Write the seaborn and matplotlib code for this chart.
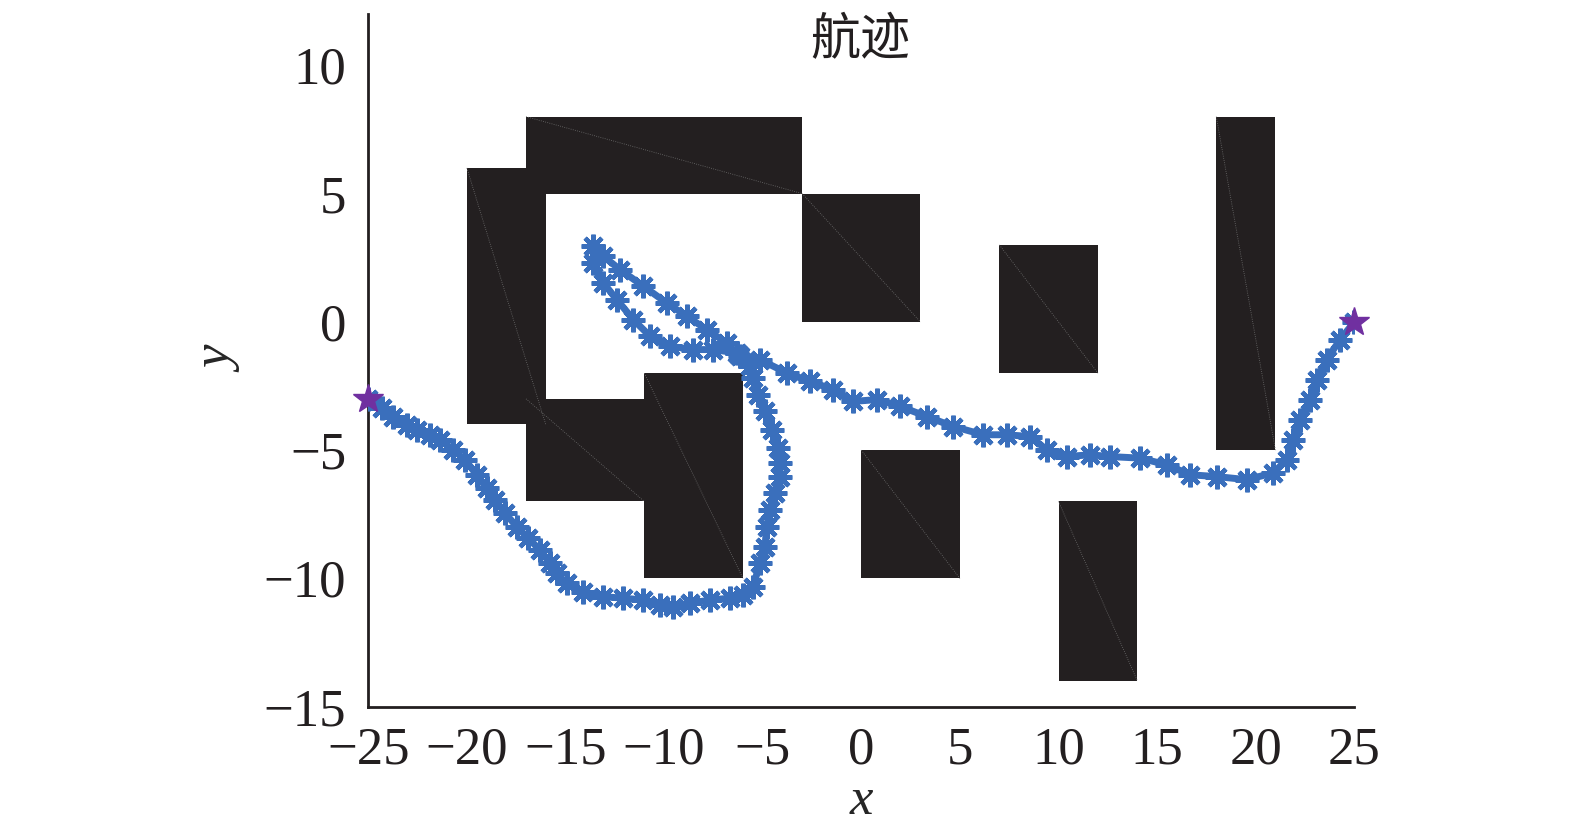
import matplotlib as mpl
mpl.use('agg')
import matplotlib.pyplot as plt
import pandas as pd
import seaborn as sns

# obstacles: x0, x1, y0, y1
obs_x0 = [-20, -17, -3, 7, 18, -17, -11, 0, 10]
obs_x1 = [-16, -3, 3, 12, 21, -11, -6, 5, 14]
obs_y0 = [-4, 5, 0, -2, -5, -7, -10, -10, -14]
obs_y1 = [6, 8, 5, 3, 8, -3, -2, -5, -7]

# track
path_x = [-25.0, -24.32, -23.73, -23.05, -22.55, -21.87, -21.36, -20.69, -20.1, -19.5,
          -19.0, -18.58, -18.07, -17.47, -16.89, -16.29, -15.79, -15.45, -14.94, -14.1,
          -13.08, -12.07, -11.05, -10.21, -9.53, -8.69, -7.67, -6.66, -5.98, -5.48,
          -5.14, -4.88, -4.8, -4.63, -4.38, -4.12, -4.12, -4.21, -4.54, -4.88,
          -5.22, -5.48, -5.64, -6.15, -6.83, -7.84, -8.85, -9.87, -11.05, -12.24,
          -13.08, -13.59, -13.59, -13.08, -12.4, -11.56, -10.71, -9.7, -8.52, -7.5,
          -6.32, -5.14, -3.78, -2.6, -1.42, -0.41, 0.78, 1.96, 3.32, 4.67,
          6.19, 7.37, 8.55, 9.4, 10.41, 11.6, 12.61, 14.13, 15.49, 16.67,
          18.02, 19.54, 20.89, 21.57, 21.91, 22.25, 22.75, 23.09, 23.6, 24.28, 25.0]
path_y = [-3.0, -3.36, -3.69, -4.01, -4.2, -4.4, -4.59, -4.98, -5.37, -5.96,
          -6.48, -6.94, -7.45, -7.98, -8.43, -8.89, -9.4, -9.8, -10.19, -10.51,
          -10.71, -10.77, -10.84, -11.03, -11.1, -10.97, -10.84, -10.77, -10.64, -10.32,
          -9.4, -8.76, -7.98, -7.33, -6.67, -6.03, -5.5, -4.92, -4.2, -3.49,
          -2.84, -2.19, -1.73, -1.34, -0.82, -0.3, 0.22, 0.74, 1.39, 2.04,
          2.56, 2.95, 2.3, 1.52, 0.87, 0.09, -0.56, -0.95, -1.08, -1.08,
          -1.21, -1.47, -1.99, -2.32, -2.64, -3.1, -3.03, -3.29, -3.69, -4.08,
          -4.4, -4.4, -4.47, -4.98, -5.25, -5.18, -5.25, -5.31, -5.57, -5.96,
          -6.03, -6.15, -5.89, -5.37, -4.59, -3.81, -3.03, -2.25, -1.47, -0.69, 0.0]

ends_x = [-25, 25]
ends_y = [-3, 0]

df = pd.DataFrame({'x': path_x, 'y': path_y})

sns.set_style('white')
plt.rcParams['font.family'] = ['Liberation Serif', 'Noto Sans CJK SC']

fig = plt.figure(figsize=(15.75, 8.33), dpi=100)
ax = fig.add_axes([0.2338, 0.1516, 0.8599 - 0.2338, 0.9832 - 0.1516])

# obstacles
for x0, x1, y0, y1 in zip(obs_x0, obs_x1, obs_y0, obs_y1):
    ax.fill([x0, x1, x1, x0], [y0, y0, y1, y1], color='#231f20', lw=0, zorder=1)
for x0, x1, y0, y1 in zip(obs_x0, obs_x1, obs_y0, obs_y1):
    ax.plot([x0, x1], [y1, y0], color='#6e6e6e', lw=0.6, ls=':', zorder=1.5)

# track
sns.lineplot(data=df, x='x', y='y', sort=False, estimator=None, ax=ax,
             color='#3a6fbc', lw=5, marker=(8, 2, 0), markersize=17,
             markeredgewidth=3.2, markeredgecolor='#3a6fbc', zorder=3)
ax.plot(ends_x, ends_y, ls='none', marker='*', markersize=22, clip_on=False,
        color='#7030a0', markeredgecolor='#7030a0', zorder=4)

ax.set_xlim(-25, 25)
ax.set_ylim(-15, 12)
ax.set_xticks(range(-25, 26, 5))
ax.set_yticks(range(-15, 11, 5))
ax.set_xticklabels([f'\u2212{abs(v)}' if v < 0 else str(v) for v in range(-25, 26, 5)])
ax.set_yticklabels([f'\u2212{abs(v)}' if v < 0 else str(v) for v in range(-15, 11, 5)])

sns.despine(ax=ax)
for s in ['left', 'bottom']:
    ax.spines[s].set_linewidth(2.0)
    ax.spines[s].set_color('#231f20')
ax.tick_params(direction='in', length=8.5, width=2.0, labelsize=38,
               colors='#231f20')
ax.tick_params(axis='y', pad=16)
ax.tick_params(axis='x', pad=14)

ax.set_xlabel('x', fontsize=38, fontstyle='italic', labelpad=2)
ax.set_ylabel('y', fontsize=38, fontstyle='italic', labelpad=14)
fig.text(0.546, 1 - 40 / 833, '航迹', fontsize=36, ha='center', va='center',
         family=['Noto Sans CJK SC', 'DejaVu Sans'], color='#231f20')

plt.savefig('out.png', dpi=100)
